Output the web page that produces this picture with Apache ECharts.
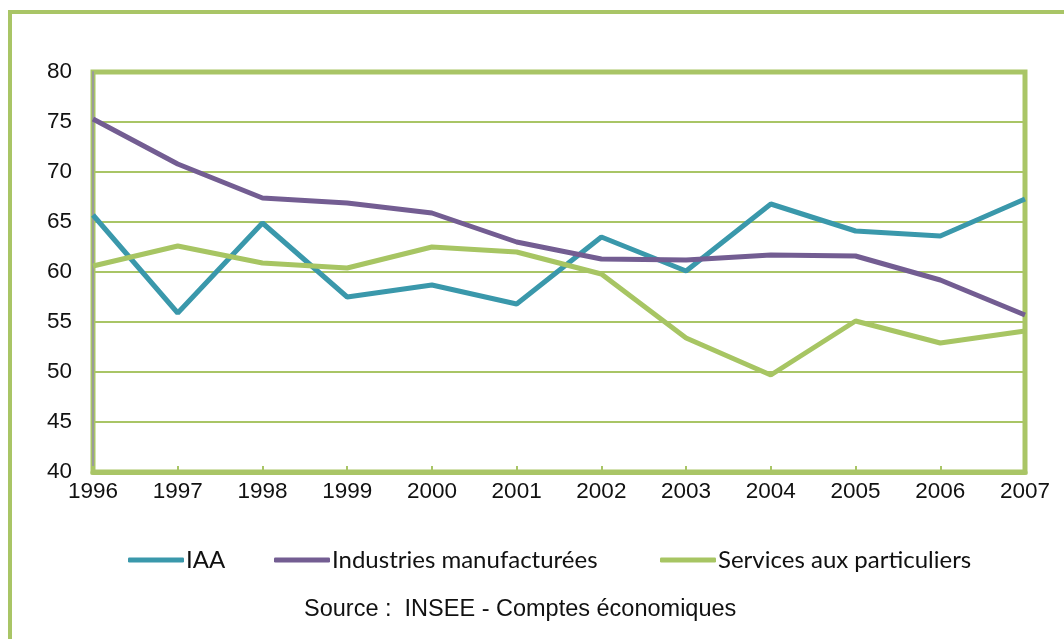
<!DOCTYPE html>
<html>
<head>
<meta charset="utf-8">
<script src="https://cdn.jsdelivr.net/npm/echarts@6/dist/echarts.min.js"></script>
<style>
  html, body { margin: 0; padding: 0; background: #fff; }
  #chart { width: 1064px; height: 639px; }
</style>
</head>
<body>
<div id="chart"></div>
<script>
var years = ['1996', '1997', '1998', '1999', '2000', '2001', '2002', '2003', '2004', '2005', '2006', '2007'];
var iaa = [65.7, 55.9, 64.9, 57.5, 58.7, 56.8, 63.5, 60.1, 66.8, 64.1, 63.6, 67.3];
var industries = [75.3, 70.8, 67.4, 66.9, 65.9, 63.0, 61.3, 61.2, 61.7, 61.6, 59.2, 55.7];
var services = [60.6, 62.6, 60.9, 60.4, 62.5, 62.0, 59.8, 53.4, 49.7, 55.1, 52.9, 54.1];
var seriesNames = ['IAA', 'Industries manufacturées', 'Services aux particuliers'];
var sourceText = 'Source :  INSEE - Comptes économiques';

var green = '#a9c566';
var colors = ['#3a98ab', '#735d92', '#a7c563'];

var myChart = echarts.init(document.getElementById('chart'));

function lineSeries (name, data, color) {
  return {
    name: name,
    type: 'line',
    data: data,
    symbol: 'none',
    smooth: false,
    z: 3,
    lineStyle: { width: 5, color: color },
    itemStyle: { color: color }
  };
}

// one legend per item so each sits where it does in the original
function legendItem (name, left) {
  return {
    data: [name],
    left: left,
    top: 548,
    padding: 0,
    itemWidth: 56,
    itemHeight: 5,
    icon: 'roundRect',
    textStyle: {
      fontFamily: 'Lato, "Open Sans", sans-serif',
      fontSize: 24,
      color: '#111',
      padding: [0, 0, 0, -3]
    }
  };
}

var option = {
  animation: false,
  color: colors,
  graphic: [
    {
      type: 'rect',
      shape: { x: 10, y: 12, width: 1100, height: 700 },
      style: { fill: 'none', stroke: green, lineWidth: 4 },
      silent: true
    },
    {
      type: 'text',
      left: 304,
      top: 598,
      style: {
        text: sourceText,
        font: '23.5px "Liberation Sans", Arial, sans-serif',
        fill: '#111'
      }
    }
  ],
  grid: {
    left: 93,
    right: 39,
    top: 72,
    bottom: 167,
    show: true,
    borderColor: green,
    borderWidth: 5,
    containLabel: false
  },
  legend: [
    legendItem(seriesNames[0], 128),
    legendItem(seriesNames[1], 274),
    legendItem(seriesNames[2], 660)
  ],
  xAxis: {
    type: 'category',
    data: years,
    boundaryGap: false,
    axisLine: { show: true, lineStyle: { color: green, width: 5 } },
    axisTick: { show: true, inside: true, length: 6, lineStyle: { color: green, width: 2 } },
    axisLabel: {
      color: '#111',
      fontSize: 22.5,
      fontFamily: '"Liberation Sans", Arial, sans-serif',
      margin: 8
    },
    splitLine: { show: false }
  },
  yAxis: {
    type: 'value',
    min: 40,
    max: 80,
    interval: 5,
    axisLine: { show: true, lineStyle: { color: '#9a9a9a', width: 2 } },
    axisTick: { show: false },
    axisLabel: {
      color: '#111',
      fontSize: 22.5,
      fontFamily: '"Liberation Sans", Arial, sans-serif',
      margin: 21
    },
    splitLine: { show: true, lineStyle: { color: green, width: 2 } }
  },
  series: [
    lineSeries(seriesNames[0], iaa, colors[0]),
    lineSeries(seriesNames[1], industries, colors[1]),
    lineSeries(seriesNames[2], services, colors[2])
  ]
};

myChart.setOption(option);
</script>
</body>
</html>
